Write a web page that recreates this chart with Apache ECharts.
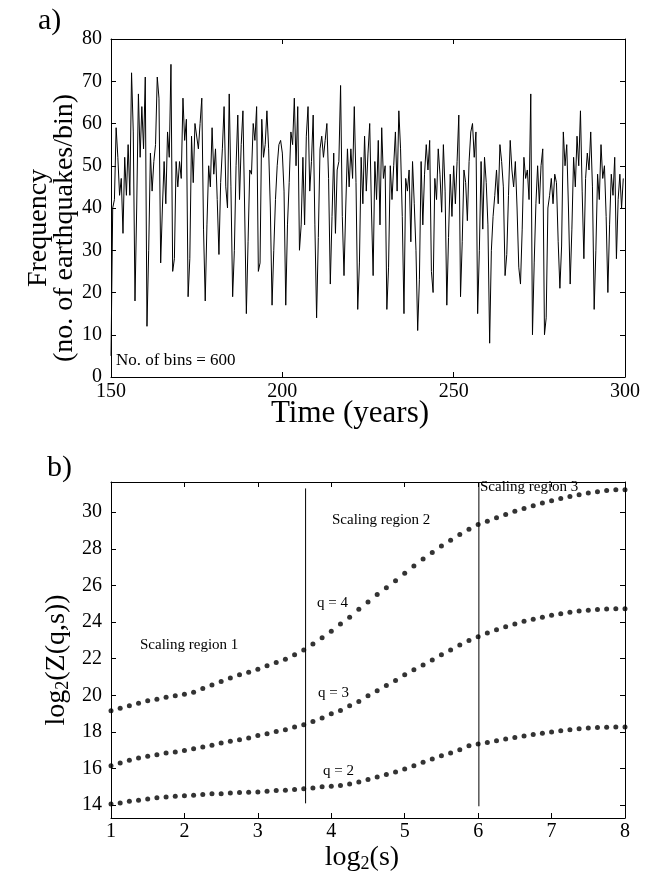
<!DOCTYPE html>
<html><head><meta charset="utf-8">
<script src="https://cdn.jsdelivr.net/npm/echarts@6/dist/echarts.min.js"></script>
<style>html,body{margin:0;padding:0;background:#fff}#c{width:655px;height:876px}</style>
</head><body><div id="c"></div>
<script>
const FONT = 'Liberation Serif';

// ---- Panel a: frequency time series (bins of 0.5 years) ----
const timeStart = 150;
const timeStep = 0.5;
const frequency = [
  5,40,42,59,52,43,47,34,52,43,55,43,72,58,18,40,67,52,64,54,71,12,30,53,44,51,55,71,66,27,40,51,41,58,52,74,25,28,51,45,51,47,66,56,61,19,28,57,46,
  60,60,54,60,66,35,18,36,50,45,59,48,54,42,29,46,54,64,45,40,67,45,19,30,50,62,42,55,63,40,15,32,49,48,60,56,64,25,27,61,52,55,63,54,40,17,30,42,50,55,56,53,44,17,36,46,
  58,55,66,50,64,30,36,52,36,57,64,44,51,62,36,14,33,54,57,52,56,60,47,22,38,53,34,49,51,69,38,24,40,54,45,54,47,64,46,16,27,52,41,57,44,53,60,40,24,51,42,56,36,59,47,
  50,16,26,50,42,50,58,44,63,54,38,15,47,44,49,32,51,41,30,11,23,51,36,48,55,49,56,25,20,47,42,54,48,39,55,44,17,33,48,38,50,41,51,62,19,32,49,46,37,51,58,60,52,58,15,30,51,35,52,46,36,8,
  30,38,43,49,41,55,51,45,24,29,43,56,49,45,51,40,26,22,35,52,47,49,42,67,10,27,41,50,41,50,54,10,14,40,43,47,41,48,46,32,21,31,58,
  50,55,40,22,35,52,45,57,50,63,44,28,47,53,49,58,45,16,30,48,42,55,47,50,38,20,36,48,43,52,28,42,48,40,47
];
const timeTicks = [150, 200, 250, 300];
const freqTicks = [0, 10, 20, 30, 40, 50, 60, 70, 80];

// ---- Panel b: log2(Z(q,s)) vs log2(s) ----
const log2sStart = 1;
const log2sStep = 0.125;
const zq4 = [19.16,19.30,19.43,19.57,19.70,19.79,19.90,19.97,20.06,20.17,20.37,20.57,20.75,20.94,21.12,21.26,21.43,21.61,21.79,21.97,22.21,22.48,
  22.80,23.15,23.50,23.90,24.26,24.70,25.10,25.50,25.87,26.26,26.66,27.06,27.44,27.80,28.16,28.47,28.78,29.07,29.33,29.50,
  29.70,29.88,30.05,30.20,30.35,30.50,30.63,30.75,30.86,30.96,31.05,31.12,31.18,31.22,31.23];
const zq3 = [16.16,16.30,16.45,16.58,16.67,16.76,16.85,16.90,16.99,17.08,17.18,17.27,17.40,17.49,17.58,17.67,17.81,17.90,18.03,18.12,
  18.27,18.39,18.57,18.76,18.99,19.17,19.43,19.66,19.97,20.25,20.53,20.81,21.12,21.39,21.66,21.93,22.21,22.48,22.75,22.99,23.20,23.40,
  23.58,23.75,23.90,24.04,24.16,24.27,24.37,24.46,24.54,24.60,24.65,24.69,24.72,24.73,24.73];
const zq2 = [14.07,14.12,14.21,14.27,14.34,14.40,14.45,14.49,14.52,14.54,14.58,14.62,14.63,14.67,14.69,14.70,14.72,14.76,14.80,14.81,
  14.85,14.90,14.94,15.00,15.03,15.08,15.16,15.27,15.40,15.54,15.67,15.81,15.98,16.16,16.34,16.52,16.70,16.85,17.03,17.25,17.34,17.43,
  17.52,17.61,17.70,17.78,17.86,17.93,18.00,18.06,18.12,18.17,18.21,18.24,18.26,18.27,18.27];
const log2sTicks = [1, 2, 3, 4, 5, 6, 7, 8];
const zTicks = [14, 16, 18, 20, 22, 24, 26, 28, 30];
const zMin = 13.3, zMax = 31.65;
const regionBounds = [3.65, 6.01];
const regionLineBottoms = [14.1, 13.94];
const regionLineTops = [31.3, 31.65];

// ---- build ----
const freqData = frequency.map((v, i) => [timeStart + i * timeStep, v]);
const toXY = arr => arr.map((v, i) => [log2sStart + i * log2sStep, v]);

const black = '#000';
const lbl = {color: black, fontFamily: FONT, fontSize: 20};
function axisBase(extra) {
  return Object.assign({
    type: 'value',
    axisLine: {show: true, onZero: false, lineStyle: {color: black, width: 1}},
    axisTick: {show: true, inside: true, length: 5, lineStyle: {color: black, width: 1}},
    splitLine: {show: false},
    axisLabel: Object.assign({}, lbl)
  }, extra);
}
function mirror(a) {
  const m = JSON.parse(JSON.stringify(a));
  m.axisLabel.show = false;
  return m;
}

const xA = axisBase({gridIndex: 0, min: timeTicks[0], max: timeTicks[timeTicks.length - 1], interval: timeTicks[1] - timeTicks[0], position: 'bottom', axisLabel: Object.assign({}, lbl, {margin: 5})});
const yA = axisBase({gridIndex: 0, min: freqTicks[0], max: freqTicks[freqTicks.length - 1], interval: freqTicks[1] - freqTicks[0], position: 'left', axisLabel: Object.assign({}, lbl, {margin: 9})});
const xB = axisBase({gridIndex: 1, min: log2sTicks[0], max: log2sTicks[log2sTicks.length - 1], interval: 1, position: 'bottom', axisLabel: Object.assign({}, lbl, {margin: 4})});
const yB = axisBase({gridIndex: 1, min: zMin, max: zMax, position: 'left',
  axisLabel: Object.assign({}, lbl, {margin: 9, customValues: zTicks}),
  axisTick: {show: true, inside: true, length: 5, lineStyle: {color: black, width: 1}, customValues: zTicks}});

const xA2 = mirror(xA); xA2.position = 'top';
const yA2 = mirror(yA); yA2.position = 'right';
const xB2 = mirror(xB); xB2.position = 'top';
const yB2 = mirror(yB); yB2.position = 'right';

const regionLines = regionBounds.map((x, i) => ({
  type: 'line', xAxisIndex: 2, yAxisIndex: 2, symbol: 'none', silent: true,
  lineStyle: {color: black, width: 1},
  data: [[x, regionLineBottoms[i]], [x, regionLineTops[i]]]
}));

const dotSeries = [zq2, zq3, zq4].map(arr => ({
  type: 'scatter', xAxisIndex: 2, yAxisIndex: 2, symbol: 'circle', symbolSize: 5,
  itemStyle: {color: black}, data: toXY(arr), silent: true
}));

function txt(text, x, y, size) {
  return {type: 'text', x: x, y: y, style: {text: text, font: size + 'px "' + FONT + '"', fill: black, textAlign: 'left', textVerticalAlign: 'middle'}};
}
const subRich = {a: {fontFamily: FONT, fontSize: 28, lineHeight: 30}, s: {fontFamily: FONT, fontSize: 18, lineHeight: 6, verticalAlign: 'bottom'}};

const option = {
  animation: false,
  backgroundColor: '#fff',
  grid: [
    {left: 111, top: 39, width: 514, height: 338},
    {left: 111, top: 482, width: 514, height: 336}
  ],
  xAxis: [xA, xA2, xB, xB2],
  yAxis: [yA, yA2, yB, yB2],
  series: [
    {type: 'line', xAxisIndex: 0, yAxisIndex: 0, symbol: 'none', data: freqData,
     lineStyle: {color: black, width: 1}, silent: true},
    ...regionLines,
    ...dotSeries
  ],
  graphic: [
    txt('a)', 38, 21, 30),
    txt('b)', 47, 468, 30),
    {type: 'text', x: 52, y: 228, rotation: Math.PI / 2,
     style: {text: 'Frequency\n(no. of earthquakes/bin)', font: '28px "' + FONT + '"', fill: black, textAlign: 'center', textVerticalAlign: 'middle', lineHeight: 26}},
    {type: 'text', x: 350, y: 414,
     style: {text: 'Time (years)', font: '31px "' + FONT + '"', fill: black, textAlign: 'center', textVerticalAlign: 'middle'}},
    txt('No. of bins = 600', 116, 361, 17),
    {type: 'text', x: 57, y: 660, rotation: Math.PI / 2,
     style: {text: '{a|log}{s|2}{a|(Z(q,s))}', fill: black, textAlign: 'center', textVerticalAlign: 'middle', rich: subRich}},
    {type: 'text', x: 362, y: 858,
     style: {text: '{a|log}{s|2}{a|(s)}', fill: black, textAlign: 'center', textVerticalAlign: 'middle', rich: subRich}},
    txt('Scaling region 1', 140, 645, 15),
    txt('Scaling region 2', 332, 520, 15),
    txt('Scaling region 3', 480, 487, 15),
    txt('q = 4', 317, 603, 15),
    txt('q = 3', 318, 693, 15),
    txt('q = 2', 323, 771, 15)
  ]
};

const chart = echarts.init(document.getElementById('c'), null, {renderer: 'canvas'});
chart.setOption(option);
</script>
</body></html>
